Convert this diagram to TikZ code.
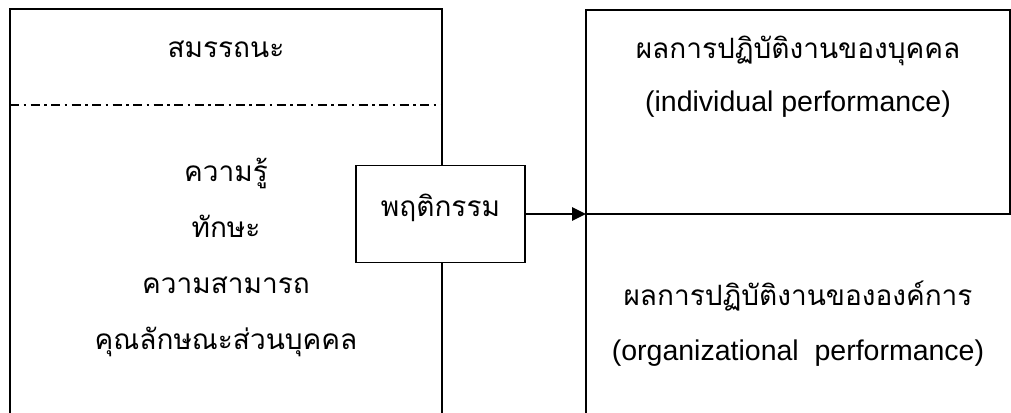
\documentclass[tikz,border=0pt]{standalone}
\usepackage{fontspec}
\usetikzlibrary{arrows.meta}
\newfontfamily\thaifont[Script=Thai]{Loma}
\setmainfont{Liberation Sans}
\tikzset{
  frame/.style={draw, line width=1.6pt, rectangle, inner sep=0pt, outer sep=0pt},
  thaitext/.style={anchor=base, inner sep=0pt, font=\thaifont\fontsize{28}{34}\selectfont},
  engtext/.style={anchor=base, inner sep=0pt, font=\fontsize{28.5}{34}\selectfont},
  divider/.style={line width=1.4pt, dash pattern=on 9pt off 4.5pt on 2.5pt off 4.5pt},
  flow/.style={line width=2.6pt, -{Triangle[length=14pt,width=13pt]}}
}
\begin{document}
\begin{tikzpicture}[x=1pt, y=-1pt]
\useasboundingbox (0,0) rectangle (1011,412);
\clip (0,0) rectangle (1011,412);

% competency column (runs off the bottom edge)
\node[frame, anchor=north west, minimum width=432pt, minimum height=440pt] (comp) at (10,9) {};
\coordinate (divL) at (10,105);
\coordinate (divR) at (442,105);
\draw[divider] (divL) -- (divR);

\node[thaitext] (comptitle) at (226,58) {สมรรถนะ};
\node[thaitext] (know)  at (226,181) {ความรู้};
\node[thaitext] (skill) at (226,237) {ทักษะ};
\node[thaitext] (abil)  at (226,293) {ความสามารถ};
\node[thaitext] (trait) at (226,349) {คุณลักษณะส่วนบุคคล};

% individual performance box
\node[frame, anchor=north west, minimum width=424pt, minimum height=204pt] (indiv) at (586,10) {};
\node[thaitext] (indivth) at (798,59) {ผลการปฏิบัติงานของบุคคล};
\node[engtext]  (indiven) at (798,111) {(individual performance)};

% organizational performance (open at the bottom)
\coordinate (orgbot) at (586,420);
\draw[line width=1.6pt] (indiv.south west) -- (orgbot);
\node[thaitext] (orgth) at (798,305) {ผลการปฏิบัติงานขององค์การ};
\node[engtext]  (orgen) at (798,360) {(organizational~~performance)};

% behaviour box over the competency column edge
\node[frame, fill=white, minimum width=169pt, minimum height=97pt] (behav) at (440.5,214) {};
\node[thaitext] (behavtxt) at (440.5,216) {พฤติกรรม};

\draw[flow] (behav.east) -- (indiv.south west);
\end{tikzpicture}
\end{document}
